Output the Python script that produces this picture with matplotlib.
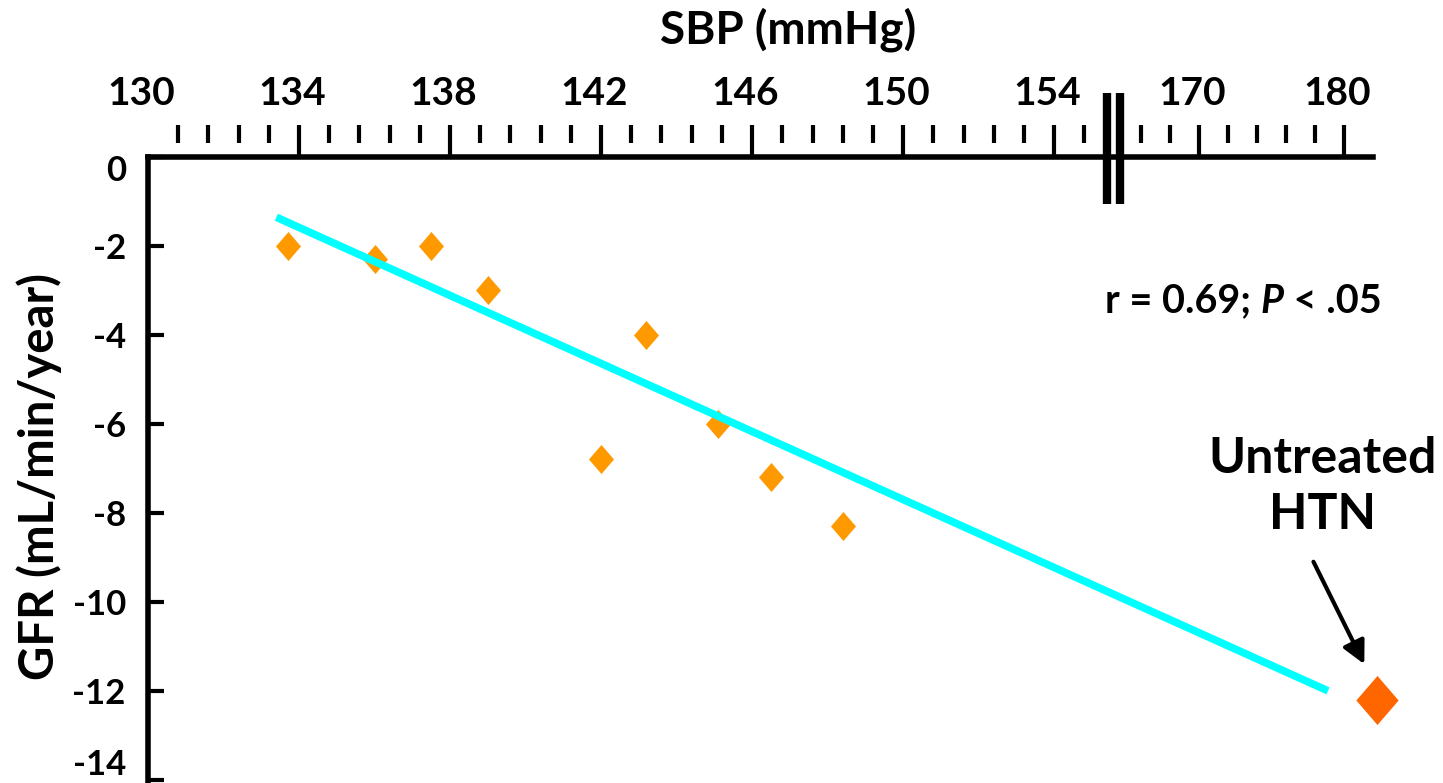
import numpy as np
import matplotlib
matplotlib.use("Agg")
import matplotlib.pyplot as plt
from matplotlib.ticker import FixedLocator, FixedFormatter, NullLocator
from matplotlib.transforms import ScaledTranslation

# ---------------------------------------------------------------- data
sbp_treated = [133.7, 136.0, 137.5, 139.0, 142.0, 143.2, 145.1, 146.5, 148.4]
gfr_treated = [-2.0, -2.3, -2.0, -3.0, -6.8, -4.0, -6.0, -7.2, -8.3]

sbp_untreated = [182.3]
gfr_untreated = [-12.2]

fit_sbp = [133.4, 178.9]
fit_gfr = [-1.36, -12.0]

x_major = [130, 134, 138, 142, 146, 150, 154, 170, 180]
x_major_labels = ["130", "134", "138", "142", "146", "150", "154", "170", "180"]
x_minor = ([130.8, 131.6, 132.4, 133.2, 134.8, 135.6, 136.4, 137.2,
            138.8, 139.6, 140.4, 141.2, 142.8, 143.6, 144.4, 145.2,
            146.8, 147.6, 148.4, 149.2, 150.8, 151.6, 152.4, 153.2,
            154.8, 155.6]
           + [166, 168, 172, 174, 176, 178])

y_ticks = [0, -2, -4, -6, -8, -10, -12, -14]
y_labels = ["0", "-2", "-4", "-6", "-8", "-10", "-12", "-14"]

# ------------------------------------------------- broken SBP axis scale
# 130-155 mmHg is drawn wide, 165-182 mmHg compressed, gap in between.
SEG_LO, SEG_HI = 155.4, 164.6
LEFT_STEP, RIGHT_STEP = 37.78, 14.53
knots_x = [100.0, SEG_LO, SEG_HI, 200.0]
knots_p = [(100.0 - 130) * LEFT_STEP,
           (SEG_LO - 130) * LEFT_STEP,
           1051.4 + (SEG_HI - 170) * RIGHT_STEP,
           1051.4 + (200.0 - 170) * RIGHT_STEP]


def forward(x):
    return np.interp(x, knots_x, knots_p)


def inverse(p):
    return np.interp(p, knots_p, knots_x)


plt.rcParams['font.family'] = ['Lato', 'DejaVu Sans']
plt.rcParams['font.weight'] = 'bold'

W, H = 1443, 783
DPI = 100
fig = plt.figure(figsize=(W / DPI, H / DPI), dpi=DPI)
fig.patch.set_facecolor('white')


def px_shift(dx, dy):
    return ScaledTranslation(dx / DPI, dy / DPI, fig.dpi_scale_trans)


rect = [148 / W, 0, 1225 / W, 626.3 / H]
ax = fig.add_axes(rect)
ax.set_xscale('function', functions=(forward, inverse))
ax.set_xlim(130, 182)
ax.set_ylim(-14.07, 0)

for side in ('right', 'bottom'):
    ax.spines[side].set_visible(False)
for side in ('top', 'left'):
    ax.spines[side].set_linewidth(4)
    ax.spines[side].set_color('black')

# top SBP axis
ax.xaxis.tick_top()
ax.xaxis.set_major_locator(FixedLocator(x_major))
ax.xaxis.set_major_formatter(FixedFormatter(x_major_labels))
ax.xaxis.set_minor_locator(NullLocator())
ax.tick_params(axis='x', which='major', direction='out', length=22.8,
               width=3, pad=10, labelsize=28, colors='black')
for lab in ax.get_xticklabels():
    lab.set_transform(lab.get_transform() + px_shift(-7, 0))
ax.xaxis.get_major_ticks()[0].tick2line.set_visible(False)

ax.xaxis.set_label_position('top')
ax.set_xlabel("SBP (mmHg)", fontsize=33, fontweight='bold')
ax.xaxis.label.set_va('baseline')
ax.xaxis.set_label_coords(0.5224, 1.1815)

# GFR axis
ax.yaxis.set_major_locator(FixedLocator(y_ticks))
ax.yaxis.set_major_formatter(FixedFormatter(y_labels))
ax.tick_params(axis='y', direction='in', length=11.5, width=3, pad=16,
               labelsize=25, colors='black')
ylabs = ax.get_yticklabels()
ylabs[0].set_transform(ylabs[0].get_transform() + px_shift(0, -11))
ylabs[-1].set_transform(ylabs[-1].get_transform() + px_shift(0, 18))
ax.set_ylabel("GFR (mL/min/year)", fontsize=34, fontweight='bold')
ax.yaxis.set_label_coords(-0.07, 0.4886)

# floating minor ticks above the SBP axis line
ax_minor = fig.add_axes(rect, frameon=False)
ax_minor.set_xscale('function', functions=(forward, inverse))
ax_minor.set_xlim(ax.get_xlim())
ax_minor.set_ylim(ax.get_ylim())
ax_minor.yaxis.set_visible(False)
ax_minor.xaxis.tick_top()
ax_minor.xaxis.set_major_locator(FixedLocator(x_minor))
ax_minor.xaxis.set_minor_locator(NullLocator())
ax_minor.tick_params(axis='x', direction='out', length=13, width=3,
                     labeltop=False, colors='black')
ax_minor.spines['top'].set_position(('outward', 9.9))

# axis break marks
for xb in (SEG_LO, SEG_HI):
    ax.plot([xb, xb], [0.9245, 1.1017], color='black', lw=6,
            solid_capstyle='butt', transform=ax.get_xaxis_transform(),
            clip_on=False, zorder=5)

# data
diamond = [(0, 0.5), (0.431, 0), (0, -0.5), (-0.431, 0), (0, 0.5)]
ax.plot(sbp_treated, gfr_treated, ls='none', marker=diamond, ms=20.9,
        color='#FF9900', mec='none', zorder=3)
ax.plot(fit_sbp, fit_gfr, color='#00FFFF', lw=5.5, solid_capstyle='butt',
        zorder=4)
ax.plot(sbp_untreated, gfr_untreated, ls='none', marker=diamond, ms=35.3,
        color='#FF6600', mec='none', clip_on=False, zorder=3)

# annotations
t1 = ax.text(0.7812, 0.7509, "r = 0.69; ", transform=ax.transAxes,
             fontsize=28.5, fontweight='bold', va='baseline', ha='left')
t2 = ax.annotate("P", xy=(1, 0), xycoords=t1, fontsize=28.5,
                 fontweight='bold', style='italic', va='bottom', ha='left')
ax.annotate(" < .05", xy=(1, 0), xycoords=t2, fontsize=28.5,
            fontweight='bold', va='bottom', ha='left')

ax.text(178.5, -7.4, "Untreated\nHTN", ha='center', va='center',
        fontsize=36, fontweight='bold', linespacing=1.3,
        multialignment='center')
ax.annotate('', xy=(181.4, -11.4), xytext=(177.9, -9.1),
            arrowprops=dict(arrowstyle='-|>,head_length=0.55,head_width=0.28',
                            lw=3, color='black', mutation_scale=25,
                            shrinkA=0, shrinkB=0))

fig.savefig('out.png', dpi=DPI, facecolor='white')
